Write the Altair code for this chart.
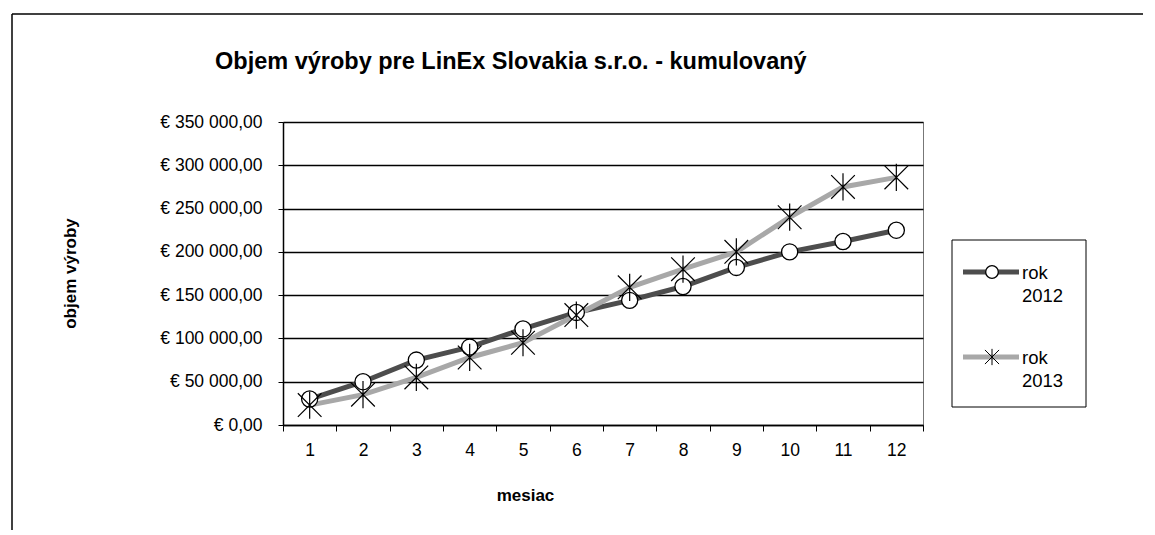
import altair as alt
import pandas as pd

# ---- data ----
months = list(range(1, 13))
rok_2012 = [30000, 50000, 75000, 90000, 111000, 130000, 144000, 160000, 182000, 200000, 212000, 225000]
rok_2013 = [23000, 35000, 55000, 78000, 95000, 127000, 159000, 180000, 200000, 240000, 275000, 286000]
series_names = ["rok 2012", "rok 2013"]
y_ticks = [0, 50000, 100000, 150000, 200000, 250000, 300000, 350000]
chart_title = "Objem výroby pre LinEx Slovakia s.r.o. - kumulovaný"
x_title = "mesiac"
y_title = "objem výroby"

df = pd.DataFrame({
    "mesiac": months * 2,
    "objem": rok_2012 + rok_2013,
    "rok": [series_names[0]] * 12 + [series_names[1]] * 12,
})

FONT = "Liberation Sans"
W, H = 640, 303
LINE_COLORS = ["#4d4d4d", "#a8a8a8"]
STAR = "M-1,-1L1,1M-1,1L1,-1M0,-1.15L0,1.15"

x_enc = alt.X(
    "mesiac:O",
    scale=alt.Scale(type="band", paddingInner=0, paddingOuter=0),
    axis=alt.Axis(
        title=x_title, labelAngle=0, tickBand="extent", tickSize=6, labelPadding=10,
        domainColor="black", tickColor="black", domainWidth=1.5, grid=False,
        labelFont=FONT, labelFontSize=17.5, labelColor="black",
        titleFont=FONT, titleFontSize=17, titleFontWeight="bold", titleColor="black",
        titleX=242, titleY=70, titleAlign="center", titleBaseline="middle",
    ),
)
y_enc = alt.Y(
    "objem:Q",
    scale=alt.Scale(domain=[0, 350000], nice=False),
    axis=alt.Axis(
        values=y_ticks, title=y_title,
        labelExpr="'€ ' + replace(replace(format(datum.value, ',.2f'), ',', ' '), '.', ',')",
        grid=True, gridColor="black", gridWidth=1.5, tickSize=5, labelPadding=16,
        domainColor="black", tickColor="black", domainWidth=1.5,
        labelFont=FONT, labelFontSize=17.5, labelColor="black",
        titleFont=FONT, titleFontSize=17, titleFontWeight="bold", titleColor="black",
        titleX=-213, titleY=151, titleAngle=-90, titleAlign="center", titleBaseline="middle",
    ),
)
color_enc = alt.Color("rok:N", scale=alt.Scale(domain=series_names, range=LINE_COLORS), legend=None)

base = alt.Chart(df)
lines = base.mark_line(strokeWidth=5).encode(x=x_enc, y=y_enc, color=color_enc)
pts12 = base.transform_filter(alt.datum.rok == series_names[0]).mark_point(
    shape="circle", filled=True, fill="white", stroke="black", strokeWidth=1.3, size=260, opacity=1
).encode(x=x_enc, y=y_enc)
pts13 = base.transform_filter(alt.datum.rok == series_names[1]).mark_point(
    shape=STAR, filled=False, stroke="black", strokeWidth=1.2, size=560, opacity=1
).encode(x=x_enc, y=y_enc)

one = pd.DataFrame({"k": [0]})
title_df = pd.DataFrame({"t": [chart_title]})
title_mark = alt.Chart(title_df).mark_text(
    align="left", baseline="middle", font=FONT, fontSize=23.5, fontWeight="bold", color="black"
).encode(x=alt.value(-68), y=alt.value(-60), text="t:N")

# outer chart frame
frame_top = alt.Chart(one).mark_rule(color="black", strokeWidth=1.5).encode(
    x=alt.value(-271), x2=alt.value(870), y=alt.value(-108))
frame_left = alt.Chart(one).mark_rule(color="black", strokeWidth=1.5).encode(
    x=alt.value(-271), y=alt.value(-108), y2=alt.value(420))

# legend
leg_box = alt.Chart(one).mark_rect(fill="white", stroke="black", strokeWidth=1).encode(
    x=alt.value(669), x2=alt.value(803), y=alt.value(118), y2=alt.value(285))
leg_df1 = pd.DataFrame({"rok": [series_names[0]]})
leg_df2 = pd.DataFrame({"rok": [series_names[1]]})
leg_line1 = alt.Chart(leg_df1).mark_rule(strokeWidth=5, color=LINE_COLORS[0]).encode(
    x=alt.value(680), x2=alt.value(736), y=alt.value(150))
leg_pt1 = alt.Chart(leg_df1).mark_point(
    shape="circle", filled=True, fill="white", stroke="black", strokeWidth=1.3, size=160, opacity=1
).encode(x=alt.value(709), y=alt.value(150))
leg_txt1 = alt.Chart(leg_df1).mark_text(
    align="left", baseline="alphabetic", lineBreak=" ", lineHeight=23,
    font=FONT, fontSize=18.5, color="black"
).encode(x=alt.value(739), y=alt.value(157), text="rok:N")
leg_line2 = alt.Chart(leg_df2).mark_rule(strokeWidth=5, color=LINE_COLORS[1]).encode(
    x=alt.value(680), x2=alt.value(736), y=alt.value(235))
leg_pt2 = alt.Chart(leg_df2).mark_point(
    shape=STAR, filled=False, stroke="black", strokeWidth=1, size=200, opacity=1
).encode(x=alt.value(709), y=alt.value(235))
leg_txt2 = alt.Chart(leg_df2).mark_text(
    align="left", baseline="alphabetic", lineBreak=" ", lineHeight=23,
    font=FONT, fontSize=18.5, color="black"
).encode(x=alt.value(739), y=alt.value(242), text="rok:N")

chart = alt.layer(
    lines, pts12, pts13, title_mark,
    frame_top, frame_left,
    leg_box, leg_line1, leg_pt1, leg_txt1, leg_line2, leg_pt2, leg_txt2,
).properties(
    width=W, height=H,
    autosize=alt.AutoSizeParams(type="none"),
    padding={"left": 275, "top": 114, "right": 220, "bottom": 105},
).configure_view(stroke="#777777", strokeWidth=1)

chart.save("out.html", embed_options={"renderer": "svg", "actions": False})
